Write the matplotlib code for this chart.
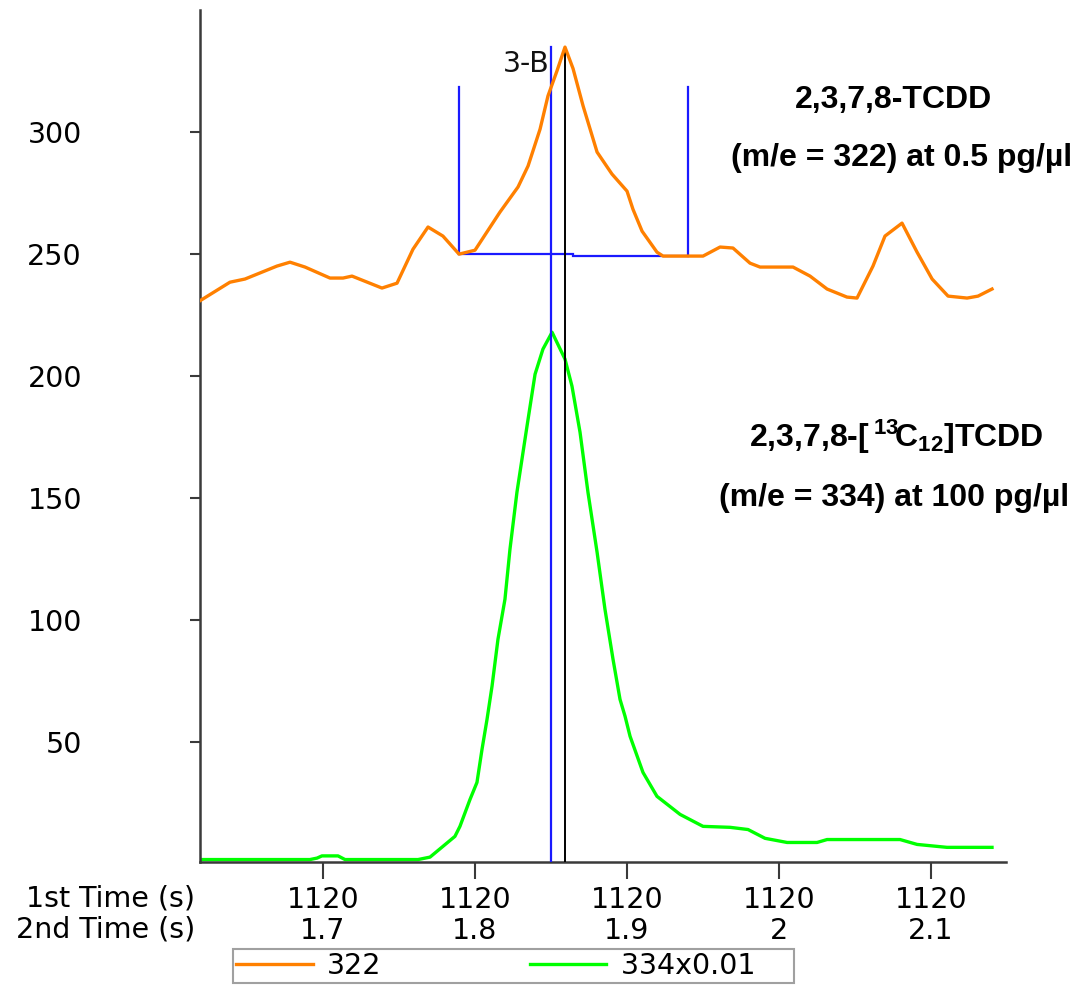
# -*- coding: utf-8 -*-
"""
TCDD extracted ion chromatogram around the 1120 s modulation
m/e 322 (native) and m/e 334 (13C12 labelled, scaled x0.01)
"""

import matplotlib
matplotlib.use("Agg")
import matplotlib.pyplot as plt

# second-dimension retention time (s) and intensity
t_322 = [1.6191, 1.6388, 1.6487, 1.6697, 1.6783, 1.6882, 1.7046, 1.7132, 1.7191,
         1.7388, 1.7487, 1.7592, 1.7691, 1.7789, 1.7895, 1.8000, 1.8164, 1.8283,
         1.8349, 1.8428, 1.8480, 1.8539, 1.8592, 1.8645, 1.8711, 1.8803, 1.8901,
         1.9000, 1.9039, 1.9099, 1.9197, 1.9237, 1.9401, 1.9500, 1.9612, 1.9697,
         1.9809, 1.9875, 2.0092, 2.0204, 2.0316, 2.0447, 2.0513, 2.0618, 2.0697,
         2.0809, 2.0908, 2.1007, 2.1112, 2.1237, 2.1309, 2.1401]
i_322 = [230.9, 238.5, 239.8, 245.1, 246.7, 244.7, 240.2, 240.2, 241.0,
         236.1, 238.1, 252.0, 261.1, 257.4, 250.0, 251.6, 267.2, 277.5,
         286.1, 301.2, 314.8, 325.0, 334.8, 326.0, 310.7, 291.8, 282.8,
         275.8, 268.4, 259.4, 250.8, 249.2, 249.2, 249.2, 252.9, 252.5,
         246.3, 244.7, 244.7, 241.0, 235.7, 232.4, 232.0, 245.1, 257.4,
         262.7, 250.8, 239.8, 232.8, 232.0, 232.8, 235.7]

t_334 = [1.6191, 1.6914, 1.6961, 1.6993, 1.7099, 1.7145, 1.7625, 1.7704, 1.7789,
         1.7868, 1.7901, 1.7967, 1.8013, 1.8046, 1.8079, 1.8112, 1.8151, 1.8197,
         1.8230, 1.8276, 1.8342, 1.8395, 1.8447, 1.8507, 1.8592, 1.8638, 1.8691,
         1.8743, 1.8803, 1.8855, 1.8908, 1.8954, 1.8987, 1.9020, 1.9105, 1.9197,
         1.9349, 1.9500, 1.9678, 1.9796, 1.9908, 2.0053, 2.0250, 2.0316, 2.0796,
         2.0908, 2.1105, 2.1401]
i_334 = [2.0, 2.0, 2.6, 3.5, 3.5, 2.0, 2.0, 3.0, 7.4,
         11.5, 15.6, 26.6, 33.6, 47.1, 59.4, 73.0, 92.2, 108.6,
         129.1, 152.5, 179.5, 200.8, 211.1, 218.0, 207.0, 195.9, 177.0,
         152.5, 127.9, 104.5, 84.0, 67.6, 60.7, 52.5, 37.7, 27.9,
         20.5, 15.6, 15.2, 14.3, 10.7, 9.0, 9.0, 10.2, 10.2,
         8.2, 7.0, 7.0]

# peak integration markers for 3-B
peak_start = 1.7895
peak_end = 1.9401
peak_split = 1.8645
base_start = 250.0
base_end = 249.2
marker_top = 318.4
apex_blue = 1.8503
apex_black = 1.8592
apex_top = 335.0

# tick labels
tick_pos = [1.7, 1.8, 1.9, 2.0, 2.1]
tick_1st = ["1120", "1120", "1120", "1120", "1120"]
tick_2nd = ["1.7", "1.8", "1.9", "2", "2.1"]
y_ticks = [50, 100, 150, 200, 250, 300]

plt.rcParams['font.family'] = ['DejaVu Sans']
plt.rcParams['mathtext.fontset'] = 'custom'
plt.rcParams['mathtext.rm'] = 'Liberation Sans:bold'
plt.rcParams['mathtext.it'] = 'Liberation Sans:bold'
plt.rcParams['mathtext.bf'] = 'Liberation Sans:bold'

FS = 20.5
W, H = 1079, 986
fig = plt.figure(figsize=(W / 100, H / 100), dpi=100)
ax = fig.add_axes([200 / W, 124 / H, 806 / W, 852 / H])

ax.plot(t_334, i_334, color="#00ff00", lw=2.4, zorder=2, label="334x0.01")
ax.plot(t_322, i_322, color="#ff8000", lw=2.4, zorder=5, label="322")

# integration window and apex lines
blue = "#1a1aff"
ax.plot([peak_start, peak_start], [base_start, marker_top], color=blue, lw=1.6, zorder=3)
ax.plot([peak_end, peak_end], [base_end, marker_top], color=blue, lw=1.6, zorder=3)
ax.plot([peak_start, peak_split], [base_start, base_start], color=blue, lw=1.6, zorder=3)
ax.plot([peak_split, peak_end], [base_end, base_end], color=blue, lw=1.6, zorder=3)
ax.plot([apex_blue, apex_blue], [0, apex_top], color=blue, lw=1.6, zorder=3)
ax.plot([apex_black, apex_black], [0, apex_top], color="black", lw=1.4, zorder=4)
ax.text(apex_blue - 0.0015, 328, "3-B", ha="right", va="center", fontsize=FS, color="#111111")

ax.set_xlim(1.6191, 2.1493)
ax.set_ylim(1, 350)

for s in ["top", "right"]:
    ax.spines[s].set_visible(False)
for s in ["left", "bottom"]:
    ax.spines[s].set_color("#3a3a3a")
    ax.spines[s].set_linewidth(1.8)

ax.set_yticks(y_ticks)
ax.set_yticklabels([str(v) for v in y_ticks])
ax.set_xticks(tick_pos)
ax.set_xticklabels([a + "\n" + b for a, b in zip(tick_1st, tick_2nd)], linespacing=1.15)
ax.tick_params(axis="y", length=7, width=1.5, color="#3a3a3a", pad=78, labelsize=FS)
ax.tick_params(axis="x", length=12, width=1.5, color="#3a3a3a", pad=5, labelsize=FS)

fig.text(195 / W, 1 - 884 / H, "1st Time (s)\n2nd Time (s)", ha="right", va="top",
         ma="right", fontsize=FS, linespacing=1.15)

# compound annotations
bold = dict(family="Liberation Sans", fontweight="bold", fontsize=23, ha="center", va="center")
ax.text(893 / W, 1 - 100 / H, "2,3,7,8-TCDD", transform=fig.transFigure, **bold)
ax.text(902 / W, 1 - 158 / H, "(m/e = 322) at 0.5 pg/µl", transform=fig.transFigure, **bold)
ax.text(896 / W, 1 - 437 / H, r"2,3,7,8-[$\,^{13}\!$C$_{12}$]TCDD", transform=fig.transFigure, **bold)
ax.text(894 / W, 1 - 498 / H, "(m/e = 334) at 100 pg/µl", transform=fig.transFigure, **bold)

# legend box runs a bit past the second label
h, l = ax.get_legend_handles_labels()
l = [l[1], l[0] + "    "]
leg = fig.legend(h[::-1], l, ncol=2, loc="lower left", bbox_to_anchor=(233 / W, 3 / H),
                 fontsize=FS, handlelength=2.7, handletextpad=0.5, columnspacing=5.2,
                 borderpad=0.1, borderaxespad=0, fancybox=False, framealpha=1,
                 edgecolor="#a0a0a0")
leg.get_frame().set_linewidth(1.5)

plt.savefig("out.png", dpi=100)
